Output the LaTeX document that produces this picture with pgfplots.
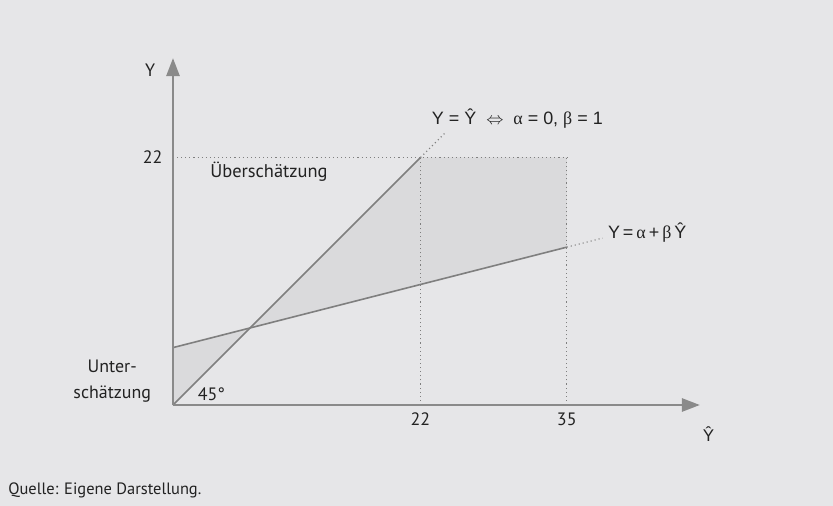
\documentclass[border=0pt]{standalone}
\usepackage{pgfplots}
\pgfplotsset{compat=1.18}
\usepackage{fontspec}
\setmainfont{PT Sans}
\newfontfamily\arial{Liberation Sans}
\newfontfamily\symb{Liberation Serif}
\usetikzlibrary{arrows.meta}

\definecolor{bg}{HTML}{E6E6E8}
\definecolor{shade}{HTML}{DADADC}
\definecolor{ln}{HTML}{7F7F7F}
\definecolor{ax}{HTML}{8A8A8A}
\definecolor{txt}{HTML}{222222}

\begin{document}
\begin{tikzpicture}
\fill[bg] (-173bp,-101bp) rectangle (660bp,405bp);
\begin{axis}[
    at={(0,0)}, anchor=south west,
    x=11.25bp, y=11.25bp,
    xmin=0, xmax=46.84,
    ymin=0, ymax=30.84,
    axis lines=left,
    axis line style={ax, line width=2.6bp, -{Triangle[length=18bp, width=13bp]}},
    xtick={22,35}, ytick={22},
    major tick length=0pt,
    /pgf/number format/assume math mode=true,
    tick label style={font=\fontsize{18}{21}\selectfont, text=txt},
    xticklabel style={yshift=-4bp},
    yticklabel style={xshift=-7bp},
    clip=false,
    axis on top,
]
% shaded areas
\addplot[fill=shade, draw=none] coordinates {(0,0) (0,5.1) (6.85,6.85)} -- cycle;
\addplot[fill=shade, draw=none] coordinates {(6.85,6.85) (22,22) (35,22) (35,14.03)} -- cycle;

% dotted guides
\addplot[ln, line width=1.1bp, dash pattern=on 1.1bp off 3bp] coordinates {(0,22) (35,22)};
\addplot[ln, line width=1.1bp, dash pattern=on 1.1bp off 3bp] coordinates {(22,0) (22,22)};
\addplot[ln, line width=1.1bp, dash pattern=on 1.1bp off 3bp] coordinates {(35,0) (35,22)};
\addplot[ln, line width=1.1bp, dash pattern=on 1.1bp off 3bp] coordinates {(22,22) (24.3,24.3)};
\addplot[ln, line width=1.1bp, dash pattern=on 1.1bp off 3bp] coordinates {(35,14.03) (38.2,14.84)};

% lines
\addplot[ln, line width=1.6bp] coordinates {(0,0) (22,22)};
\addplot[ln, line width=1.6bp] coordinates {(0,5.1) (35,14.03)};

% labels
\node[text=txt, font=\fontsize{18}{21}\selectfont] at (axis cs:-2.04,29.8) {Y};
\node[text=txt, font=\arial\fontsize{17}{20}\selectfont] at (axis cs:47.6,-2.6) {Ŷ};
\node[text=txt, anchor=west, inner sep=0pt, font=\fontsize{18.5}{21}\selectfont] at (axis cs:3.3,20.7) {Überschätzung};
\node[text=txt, align=center, font=\fontsize{18}{26}\selectfont] at (axis cs:-5.4,2.1) {Unter-\\schätzung};
\node[text=txt, anchor=west, inner sep=0pt, font=\fontsize{18}{21}\selectfont] at (axis cs:2.2,1.0) {45°};
\node[text=txt, anchor=west, inner sep=0pt, font=\arial\fontsize{18}{21}\selectfont] at (axis cs:23.0,25.5) {Y = Ŷ \;$\Leftrightarrow$\; {\symb α} = 0, {\symb β} = 1};
\node[text=txt, anchor=west, inner sep=0pt, font=\arial\fontsize{18}{21}\selectfont] at (axis cs:38.65,15.3) {Y\,=\,{\symb α}\,+\,{\symb β}\,Ŷ};
\node[text=txt, anchor=west, inner sep=0pt, font=\fontsize{16.5}{20}\selectfont] at (axis cs:-14.65,-7.6) {Quelle: Eigene Darstellung.};
\end{axis}
\pgfresetboundingbox
\useasboundingbox (-173bp,-101bp) rectangle (660bp,405bp);
\end{tikzpicture}
\end{document}
